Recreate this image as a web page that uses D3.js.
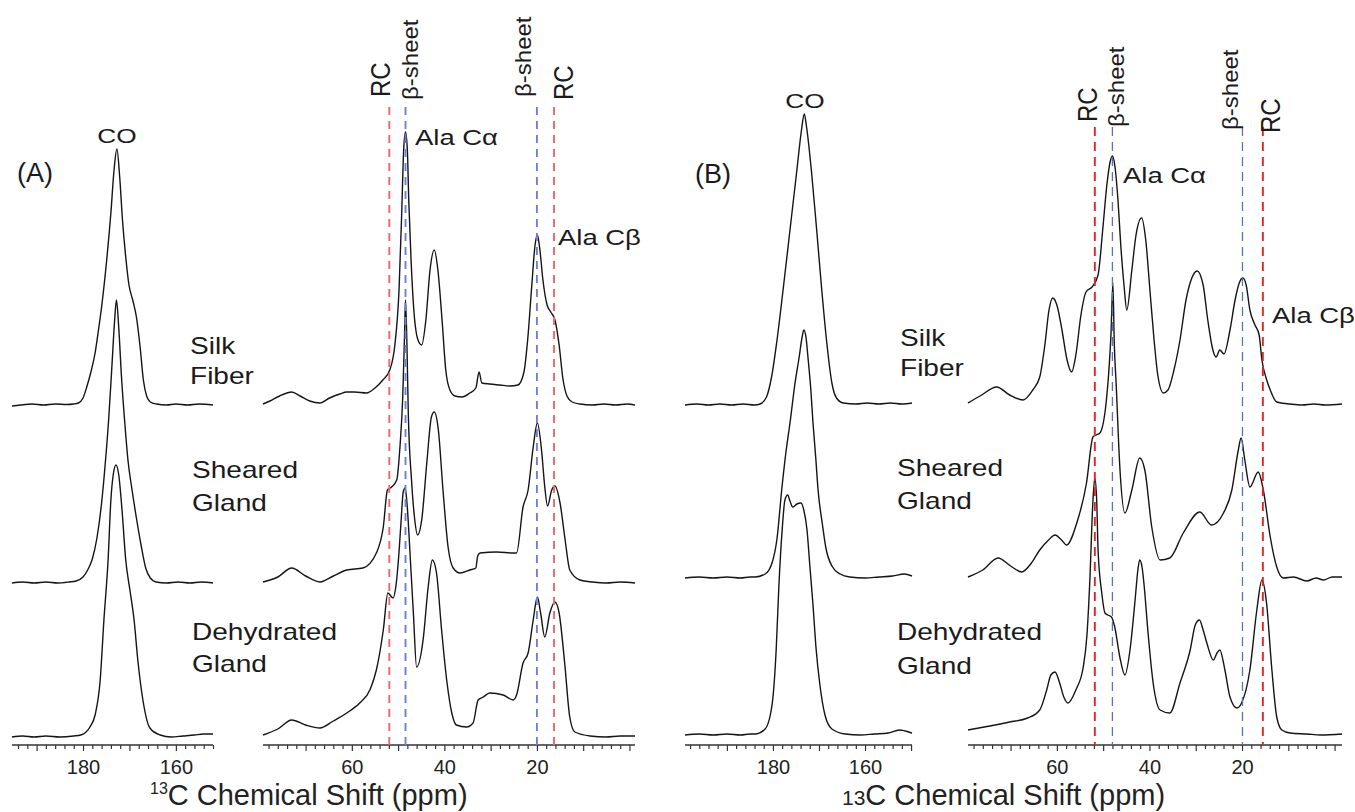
<!DOCTYPE html>
<html>
<head>
<meta charset="utf-8">
<script src="https://cdn.jsdelivr.net/npm/d3@7"></script>
<style>
  body { margin: 0; background: #fff; }
  svg { display: block; }
</style>
</head>
<body>
<svg id="chart" width="1355" height="812"></svg>
<script>
// ---------- spectra: [chemical shift (ppm), intensity (a.u.)] ----------
// Panel A, carbonyl region
const coA_silk = [[195.3,-1],[193.5,0],[191,1],[188.5,0],[186,1],[183.5,0.5],[182,1],[181,2],[180,7],[179.2,18],[178.3,33],[177.4,52],[176.7,74],[176.0,98],[174.9,145],[174.0,192],[173.3,236],[172.7,256],[172.1,228],[171.5,185],[170.8,148],[170.1,120],[169.3,105],[168.5,88],[167.7,58],[167.0,25],[166.3,9],[165.5,3],[164.2,1],[162,0],[160,1],[157.5,0],[155,1],[152,0]];
const coA_sheared = [[195.3,0],[193,1],[190.5,0],[188,1],[185.5,0],[183,1],[181.5,2],[180,6],[179,13],[178,24],[177,45],[176,80],[175.2,120],[174.5,162],[173.8,215],[173.2,262],[172.8,283],[172.3,255],[171.7,205],[171.0,160],[170.3,122],[169.5,95],[168.5,65],[167.5,38],[166.5,15],[165.5,5],[164.3,1],[162,0],[159.5,1],[157,0],[154.5,1],[152,0]];
const coA_dehyd = [[195.3,0],[193,1],[190.5,0],[188,1],[185,0],[182,1],[180.5,2],[179.6,4],[178.5,10],[177.4,22],[176.3,57],[175.5,117],[174.6,177],[174.0,237],[173.5,262],[172.9,272],[172.3,262],[171.6,227],[170.8,177],[169.9,147],[169.0,117],[168.2,77],[167.1,37],[165.6,9],[163.4,2],[161,0],[158.5,1],[156,2],[154,3],[152,3]];
// Panel A, aliphatic region
const aliA_silk = [[79.2,1],[77.7,4],[75.6,9],[73.0,13],[71.2,9],[69.1,4],[66.9,2],[64.8,7],[62.6,11],[61.1,13],[59.4,13],[56.8,12],[55.0,17],[53.3,25],[51.8,35],[50.7,60],[49.8,115],[49.2,195],[48.8,255],[48.4,273],[48.0,255],[47.7,205],[47.2,145],[46.6,95],[45.7,65],[44.9,60],[44.0,85],[43.1,135],[42.2,155],[41.4,135],[40.5,85],[39.7,35],[38.8,15],[37.7,9],[36.2,8],[34.5,12],[33.2,17],[32.5,33],[31.9,22],[30.2,21],[28.0,20],[25.8,19],[24.1,20],[22.8,33],[22.0,65],[21.1,120],[20.4,160],[19.9,170],[19.4,157],[18.7,125],[17.8,100],[17.0,93],[16.1,85],[15.2,60],[14.4,27],[13.5,9],[12.4,3],[10.7,1],[8,0],[5.5,1],[3,0],[0.5,1],[-1.2,0]];
const aliA_sheared = [[79.2,1],[76,6],[73.0,15],[70,7],[66.9,1],[64,7],[61.1,13],[57.6,15],[54.7,30],[53.2,56],[52.3,93],[51.4,96],[50.3,103],[49.6,136],[49.0,186],[48.6,250],[48.4,283],[48.1,240],[47.8,170],[47.1,103],[46.4,63],[45.8,48],[44.9,63],[43.8,120],[42.8,166],[42.2,171],[41.3,153],[40.3,93],[39.2,36],[38.1,15],[36.6,10],[34.5,13],[33.2,15],[32.8,27],[32.3,30],[28.7,31],[25.1,30],[24.4,30],[23.0,76],[21.9,93],[20.8,136],[19.9,160],[19.0,133],[18.3,96],[17.7,77],[16.8,93],[16.1,97],[15.0,80],[13.9,43],[12.9,13],[10.7,3],[8,1],[5,0],[2,1],[-1.2,0]];
const aliA_dehyd = [[79.2,2],[76,8],[73.0,17],[70,12],[66.9,9],[64,16],[61.1,24],[58.3,34],[56,48],[54.7,67],[53.2,107],[52.2,144],[51.1,139],[50.5,150],[49.8,185],[49.3,220],[48.9,245],[48.5,249],[48.2,240],[47.8,215],[47.5,190],[46.7,124],[46.0,70],[44.6,97],[43.5,150],[42.6,177],[41.7,164],[40.6,107],[39.5,57],[38.4,24],[37.4,12],[35.2,10],[33.8,14],[32.7,37],[31.6,40],[30.2,44],[27.3,42],[25.1,37],[24.4,42],[23.0,74],[21.9,84],[20.8,117],[19.9,140],[19.2,124],[18.3,100],[17.2,124],[16.1,135],[15.2,124],[14.0,74],[12.9,20],[11.8,5],[8.5,1],[5,0],[2,1],[-1.2,1]];

// Panel B, carbonyl region
const coB_silk = [[199.1,0],[196.5,1],[194,0],[191.5,1],[189,0],[186.5,1],[184,0],[182.8,1],[181.4,8],[180.3,28],[179.2,62],[177.8,115],[176.3,175],[174.8,235],[173.8,275],[173.2,291],[172.7,278],[171.6,232],[170.5,175],[169.4,115],[168.3,62],[167.2,22],[166.2,7],[164.7,2],[162,1],[159.5,2],[157,1],[154.5,2],[152,1],[149.8,2]];
const coB_sheared = [[199.1,0],[196,1],[193,0],[190,1],[187,0],[185,1],[183.9,1],[181.7,4],[180.2,15],[179.1,40],[178.1,88],[177.2,125],[176.3,155],[175.2,195],[174.3,221],[173.7,240],[173.3,248],[172.8,240],[172.4,221],[171.8,190],[171.3,155],[170.7,120],[170.2,88],[169.3,55],[168.5,30],[167.2,12],[165.4,4],[163.3,1],[160,0],[157,1],[154,2],[151.5,4],[149.8,2]];
const coB_dehyd = [[199.1,0],[196,1],[193,0],[190,1],[187,0],[185,1],[183.9,1],[181.7,6],[180.2,30],[179.3,85],[178.7,150],[178.0,205],[177.4,235],[176.8,240],[176.3,234],[175.7,228],[174.8,231],[173.9,232],[173.3,225],[172.6,205],[172.0,170],[171.3,130],[170.7,90],[169.8,50],[168.7,20],[167.2,6],[164.3,1],[161,0],[158,1],[155,2],[152.5,5],[150.5,3],[149.8,2]];
// Panel B, aliphatic region
const aliB_silk = [[79.2,2],[76.6,9],[73.0,18],[70.2,10],[67.3,5],[65.2,15],[63.7,28],[62.6,60],[61.7,95],[60.9,107],[60.0,100],[58.9,75],[57.8,45],[56.8,33],[55.9,50],[54.8,90],[53.7,113],[52.4,118],[51.1,130],[50.1,175],[49.2,220],[48.5,243],[48.0,249],[47.5,240],[46.8,205],[46.2,160],[45.5,120],[44.9,95],[43.8,135],[42.9,170],[41.7,187],[40.8,165],[39.9,115],[39.0,65],[38.2,30],[37.0,12],[36.0,15],[34.7,35],[33.4,65],[32.1,105],[31.0,125],[29.7,134],[28.4,120],[27.4,85],[26.3,55],[25.6,48],[24.8,55],[23.9,51],[22.6,75],[21.5,105],[20.6,122],[19.8,127],[19.1,120],[18.3,95],[17.2,80],[16.3,70],[15.7,45],[14.8,27],[13.9,15],[12.5,3],[9.6,1],[7,0],[4.5,1],[2,0],[-1.6,1]];
const aliB_sheared = [[79.2,1],[76,8],[72.7,20],[70,12],[67.6,6],[65.5,15],[63.7,28],[61.8,38],[60.4,43],[59,38],[57.9,33],[55.7,55],[53.6,95],[52.2,141],[51.5,143],[50.7,145],[49.3,178],[48.8,205],[48.3,245],[47.9,295],[47.6,235],[47.2,195],[46.4,111],[45.3,65],[43.8,88],[42.1,120],[41.0,108],[39.5,51],[37.7,18],[35.6,20],[32.7,45],[29.1,66],[26.6,53],[24.0,65],[22.2,88],[20.8,128],[20.2,140],[19.4,118],[18.3,91],[16.5,106],[15.4,88],[13.9,41],[12.5,11],[11.1,0],[8.9,1],[6.0,-3],[4,0],[2.4,-2],[0.5,1],[-1.6,1]];
const aliB_dehyd = [[79.2,5],[74.5,9],[70.2,13],[66.3,17],[63.7,25],[62.2,45],[61.3,60],[60.4,63],[59.4,52],[58.5,38],[57.6,32],[55.9,45],[54.3,68],[53.5,100],[52.9,152],[52.2,235],[51.8,257],[51.4,235],[51.1,185],[50.3,142],[49.6,122],[49.0,120],[48.2,118],[47.5,108],[46.4,78],[45.3,60],[44.2,85],[43.1,135],[42.5,165],[42.1,175],[41.6,168],[41.2,152],[40.3,102],[39.2,52],[37.7,25],[35.6,22],[33.4,52],[31.2,85],[30.1,110],[29.2,115],[28.4,105],[27.6,92],[26.2,75],[25.4,82],[24.8,85],[23.7,65],[22.6,38],[21.1,27],[20.1,32],[18.3,65],[16.8,125],[15.7,155],[14.7,132],[13.6,68],[12.5,18],[11.4,5],[9.6,2],[6,1],[3,0],[-1.6,1]];

// vertical stacking offsets (a.u.): silk fiber, sheared gland, dehydrated gland
const offsetsA = [340, 162, 8];
const offsetsB = [340, 167, 10];

// reference shifts (ppm): random coil and beta-sheet for Ala C-alpha / C-beta
const rcA = [51.9, 16.3];
const betaA = [48.4, 20.0];
const rcB = [51.8, 15.5];
const betaB = [48.0, 19.9];

// tick labels
const coTickLabels = [180, 160];
const aliTickLabels = [60, 40, 20];
const sampleNames = [["Silk", "Fiber"], ["Sheared", "Gland"], ["Dehydrated", "Gland"]];

// ---------- layout ----------
const FONT = "'Liberation Sans', Arial, Helvetica, sans-serif";
const INK = "#1b1b1b";
const AXIS_Y = 745;
const svg = d3.select("#chart");
const y = d3.scaleLinear().domain([0, 640]).range([745, 105]);

const panels = [
  {
    tag: "(A)", tagPos: [17, 182],
    co: { domain: [195.3, 152], range: [12, 213] },
    ali: { domain: [79.2, -1.2], range: [263, 635] },
    coTraces: [coA_silk, coA_sheared, coA_dehyd],
    aliTraces: [aliA_silk, aliA_sheared, aliA_dehyd],
    offsets: offsetsA, rc: rcA, beta: betaA,
    refTop: 107, rcColor: "#ef6670", betaColor: "#6f80d4", rcW: 1.9, betaW: 1.9, dash: "8,6",
    coLabel: [117, 143],
    names: { x: [190, 192, 192], y: [[354, 384], [478, 511], [640, 672]] },
    vlabels: [
      { text: "RC", x: 390, y: 97, size: 24, s: 1.15 },
      { text: "β-sheet", x: 417.5, y: 100, size: 24, s: 0.9 },
      { text: "β-sheet", x: 531, y: 97, size: 24, s: 0.9 },
      { text: "RC", x: 573, y: 100, size: 24, s: 1.15 }
    ],
    ala: [{ g: "α", x: 415, y: 145 }, { g: "β", x: 558, y: 245 }],
    title: { x: 150, sup: true }
  },
  {
    tag: "(B)", tagPos: [695, 183],
    co: { domain: [199.1, 149.8], range: [685, 912] },
    ali: { domain: [79.2, -1.6], range: [968, 1342] },
    coTraces: [coB_silk, coB_sheared, coB_dehyd],
    aliTraces: [aliB_silk, aliB_sheared, aliB_dehyd],
    offsets: offsetsB, rc: rcB, beta: betaB,
    refTop: 127, rcColor: "#e1232b", betaColor: "#5c6ec6", rcW: 1.9, betaW: 1.3, dash: "9,6",
    coLabel: [805, 108],
    names: { x: [900, 897, 897], y: [[346, 376], [476, 509], [640, 674]] },
    vlabels: [
      { text: "RC", x: 1097, y: 122, size: 24, s: 1.15 },
      { text: "β-sheet", x: 1124, y: 127, size: 24, s: 0.9 },
      { text: "β-sheet", x: 1238, y: 130, size: 24, s: 0.9 },
      { text: "RC", x: 1280, y: 133, size: 24, s: 1.15 }
    ],
    ala: [{ g: "α", x: 1123, y: 183 }, { g: "β", x: 1272, y: 323 }],
    title: { x: 842, sup: false }
  }
];

function hText(g, str, x, yPos, size, sx, anchor) {
  return g.append("text")
    .attr("transform", `translate(${x},${yPos}) scale(${sx},1)`)
    .attr("font-family", FONT).attr("font-size", size)
    .attr("fill", INK).attr("text-anchor", anchor || "start")
    .text(str);
}

function drawAxis(g, x, domain, labels) {
  const lo = Math.ceil(Math.min(...domain) / 2) * 2;
  const hi = Math.floor(Math.max(...domain) / 2) * 2;
  const minor = d3.range(lo, hi + 1, 2).filter(v => v % 10 !== 0);
  const major = d3.range(Math.ceil(lo / 10) * 10, hi + 1, 10);

  const ax = g.append("g").attr("transform", `translate(0,${AXIS_Y})`);
  ax.append("g")
    .call(d3.axisBottom(x).tickValues(minor).tickSize(4).tickSizeOuter(0).tickFormat(""))
    .call(s => s.select(".domain").remove());
  ax.append("g")
    .call(d3.axisBottom(x).tickValues(major).tickSize(6).tickSizeOuter(0)
      .tickFormat(v => labels.includes(v) ? String(v) : ""))
    .call(s => s.select(".domain").remove())
    .call(s => s.selectAll("text")
      .attr("font-family", FONT).attr("font-size", 20).attr("fill", "#222")
      .attr("y", 0).attr("dy", 29));
  ax.selectAll(".tick line").attr("stroke", "#333").attr("stroke-width", 1.2);
  ax.append("line")
    .attr("x1", x.range()[0]).attr("x2", x.range()[1])
    .attr("stroke", "#333").attr("stroke-width", 1.6);
}

panels.forEach(p => {
  const g = svg.append("g");
  const xCo = d3.scaleLinear().domain(p.co.domain).range(p.co.range);
  const xAli = d3.scaleLinear().domain(p.ali.domain).range(p.ali.range);

  drawAxis(g, xCo, p.co.domain, coTickLabels);
  drawAxis(g, xAli, p.ali.domain, aliTickLabels);

  // stacked spectra
  const traces = g.append("g").attr("fill", "none").attr("stroke", "#151515")
    .attr("stroke-width", 1.4).attr("stroke-linejoin", "round");
  [[xCo, p.coTraces], [xAli, p.aliTraces]].forEach(([x, list]) => {
    list.forEach((data, i) => {
      const off = p.offsets[i];
      const line = d3.line()
        .x(d => x(d[0]))
        .y(d => y(off + d[1]))
        .curve(d3.curveMonotoneX);
      traces.append("path").attr("d", line(data));
    });
  });

  // reference shift markers
  const refs = g.append("g").attr("fill", "none");
  p.rc.forEach(v => refs.append("line")
    .attr("x1", xAli(v)).attr("x2", xAli(v)).attr("y1", p.refTop).attr("y2", AXIS_Y)
    .attr("stroke", p.rcColor).attr("stroke-width", p.rcW).attr("stroke-dasharray", p.dash));
  p.beta.forEach(v => refs.append("line")
    .attr("x1", xAli(v)).attr("x2", xAli(v)).attr("y1", p.refTop).attr("y2", AXIS_Y)
    .attr("stroke", p.betaColor).attr("stroke-width", p.betaW).attr("stroke-dasharray", p.dash));

  // vertical labels over the markers
  p.vlabels.forEach(l => {
    g.append("text")
      .attr("transform", `translate(${l.x},${l.y}) rotate(-90) scale(1,${l.s})`)
      .attr("font-family", FONT).attr("font-size", l.size).attr("fill", INK)
      .text(l.text);
  });

  // panel tag, CO label, peak labels
  hText(g, p.tag, p.tagPos[0], p.tagPos[1], 27, 1);
  hText(g, "CO", p.coLabel[0], p.coLabel[1], 21, 1.25, "middle");
  p.ala.forEach(a => {
    const t = g.append("text")
      .attr("transform", `translate(${a.x},${a.y}) scale(1.25,1)`)
      .attr("font-family", FONT).attr("font-size", 22).attr("fill", INK);
    t.append("tspan").text("Ala");
    t.append("tspan").attr("dx", 6).text("C" + a.g);
  });

  // sample names
  sampleNames.forEach((lines, i) => {
    lines.forEach((s, j) => hText(g, s, p.names.x[i], p.names.y[i][j], 23, 1.22));
  });

  // axis title
  const t = g.append("text").attr("font-family", FONT).attr("fill", "#222")
    .attr("x", p.title.x).attr("y", 805);
  if (p.title.sup) {
    t.append("tspan").attr("font-size", 16).attr("dy", -11).text("13");
    t.append("tspan").attr("font-size", 29).attr("dy", 11).text("C Chemical Shift (ppm)");
  } else {
    t.append("tspan").attr("font-size", 21).text("13");
    t.append("tspan").attr("font-size", 29).text("C Chemical Shift (ppm)");
  }
});
</script>
</body>
</html>
